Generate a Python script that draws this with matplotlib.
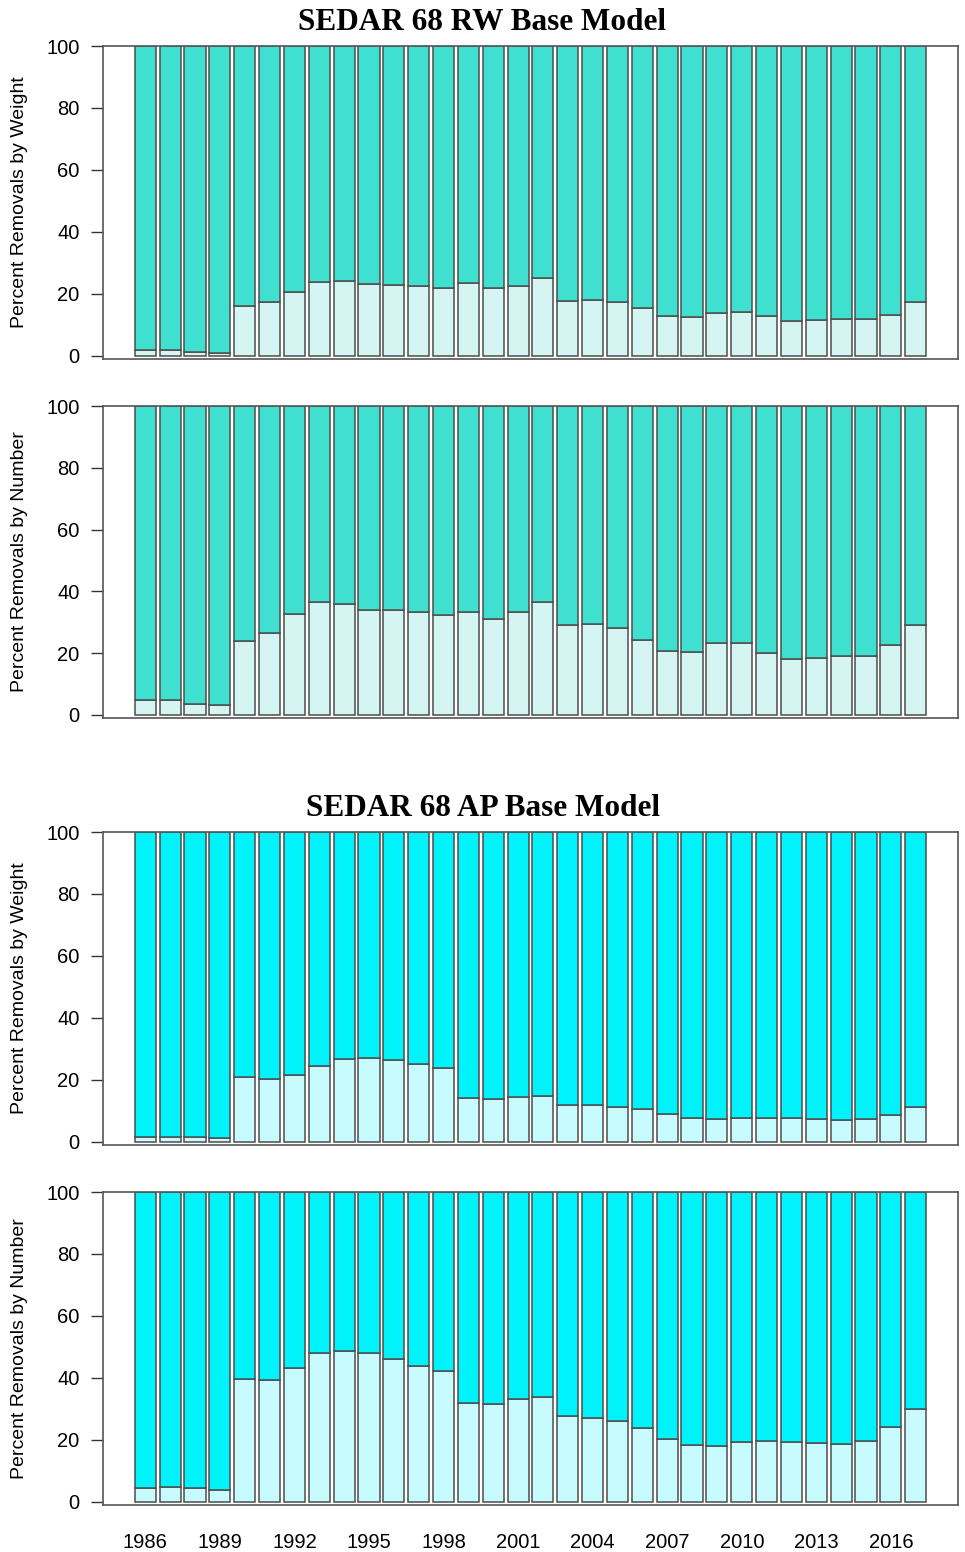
import matplotlib
matplotlib.use("Agg")
import matplotlib.pyplot as plt
import numpy as np

years = list(range(1986, 2018))
tick_years = list(range(1986, 2017, 3))

rw_weight = [1.8, 1.8, 1.2, 1.0, 16.1, 17.3, 20.7, 24.0, 24.2, 23.1, 22.8, 22.5,
             21.8, 23.4, 21.8, 22.4, 25.0, 17.7, 18.0, 17.4, 15.3, 12.9, 12.4, 14.0,
             14.3, 12.8, 11.4, 11.5, 11.8, 11.8, 13.2, 17.3]
rw_number = [4.7, 4.7, 3.4, 3.1, 23.8, 26.4, 32.8, 36.5, 35.8, 34.1, 34.1, 33.3,
             32.5, 33.3, 31.1, 33.2, 36.7, 29.0, 29.3, 28.2, 24.4, 20.7, 20.5, 23.2,
             23.2, 20.1, 18.1, 18.3, 19.0, 19.1, 22.6, 29.0]
ap_weight = [1.5, 1.5, 1.5, 1.1, 21.0, 20.3, 21.6, 24.6, 26.7, 27.0, 26.5, 25.0,
             23.7, 14.3, 14.0, 14.4, 14.8, 11.8, 11.9, 11.3, 10.6, 8.9, 7.8, 7.4,
             7.7, 7.8, 7.6, 7.4, 7.2, 7.4, 8.8, 11.3]
ap_number = [4.6, 4.7, 4.6, 3.7, 39.5, 39.4, 43.2, 47.9, 48.8, 48.1, 46.1, 43.7,
             42.4, 31.8, 31.7, 33.1, 33.9, 27.8, 27.2, 26.1, 23.9, 20.4, 18.2, 18.1,
             19.3, 19.8, 19.3, 19.1, 18.8, 19.6, 24.3, 30.1]

titles = ["SEDAR 68 RW Base Model", "SEDAR 68 AP Base Model"]
ylabels = ["Percent Removals by Weight", "Percent Removals by Number"]

rw_colors = ("#D4F5F2", "#40E0D0")
ap_colors = ("#C8FBFD", "#00F2FA")

W, H = 965, 1552
fig = plt.figure(figsize=(W / 100, H / 100), dpi=100)
plt.rcParams['font.family'] = ['Liberation Sans', 'DejaVu Sans']

panels = [
    (rw_weight, rw_colors, ylabels[0], 46, 359),
    (rw_number, rw_colors, ylabels[1], 406, 718),
    (ap_weight, ap_colors, ylabels[0], 832, 1145),
    (ap_number, ap_colors, ylabels[1], 1192, 1505),
]

left_px, right_px = 103, 958
edge = "#4d4d4d"
for i, (vals, cols, ylab, top, bot) in enumerate(panels):
    ax = fig.add_axes([left_px / W, 1 - bot / H, (right_px - left_px) / W, (bot - top) / H])
    v = np.array(vals)
    ax.bar(years, v, width=0.85, color=cols[0], edgecolor=edge, linewidth=1.1)
    ax.bar(years, 100 - v, bottom=v, width=0.85, color=cols[1], edgecolor=edge, linewidth=1.1)
    ax.set_xlim(1986 - 1.7, 2017 + 1.7)
    ax.set_ylim(-1, 100)
    ax.set_yticks([0, 20, 40, 60, 80, 100])
    ax.tick_params(axis='y', length=8.5, width=1.0, pad=8.5, labelsize=14.5, color="#333333")
    for s in ax.spines.values():
        s.set_color("#555555")
        s.set_linewidth(1.2)
    if i == 3:
        ax.set_xticks(tick_years)
        ax.tick_params(axis='x', length=0, pad=20, labelsize=14.5)
    else:
        ax.set_xticks([])
    fig.text(20 / W, 1 - ((top + bot) / 2) / H, ylab, rotation=90, ha='center', va='center', fontsize=14)

fig.text(0.5, 1 - 22 / H, titles[0], ha='center', va='center', fontsize=22.5,
         fontweight='bold', family=['Liberation Serif', 'DejaVu Serif'])
fig.text(0.5, 1 - 808 / H, titles[1], ha='center', va='center', fontsize=22.5,
         fontweight='bold', family=['Liberation Serif', 'DejaVu Serif'])

fig.savefig("out.png", dpi=100)
